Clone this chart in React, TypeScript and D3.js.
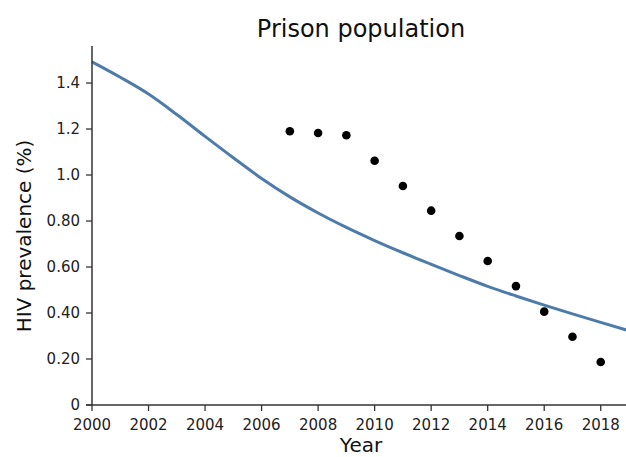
import React from "react";
import * as d3 from "d3";

// Modelled HIV prevalence in the prison population, by year
const modelYears = [2000, 2001, 2002, 2003, 2004, 2005, 2006, 2007, 2008, 2009, 2010, 2011, 2012, 2013, 2014, 2015, 2016, 2017, 2018, 2019];
const modelValues = [1.492, 1.425, 1.352, 1.263, 1.168, 1.075, 0.985, 0.905, 0.835, 0.772, 0.715, 0.662, 0.612, 0.563, 0.516, 0.474, 0.434, 0.396, 0.359, 0.323];

// Observed prevalence points
const obsYears = [2007, 2008, 2009, 2010, 2011, 2012, 2013, 2014, 2015, 2016, 2017, 2018];
const obsValues = [1.19, 1.183, 1.173, 1.062, 0.952, 0.845, 0.735, 0.626, 0.517, 0.406, 0.297, 0.187];

const xTicks = [2000, 2002, 2004, 2006, 2008, 2010, 2012, 2014, 2016, 2018];
const yTicks = [0, 0.2, 0.4, 0.6, 0.8, 1.0, 1.2, 1.4];
const yTickLabels = ["0", "0.20", "0.40", "0.60", "0.80", "1.0", "1.2", "1.4"];

const W = 626;
const H = 457;
const m = { left: 92, top: 46, bottom: 405 };

export default function App() {
  const x = d3.scaleLinear().domain([2000, 2019]).range([m.left, 629]);
  const y = d3.scaleLinear().domain([0, 1.561]).range([m.bottom, m.top]);

  const line = d3
    .line<number>()
    .x((_, i) => x(modelYears[i]))
    .y((d) => y(d))
    .curve(d3.curveMonotoneX);

  const font = "'DejaVu Sans', sans-serif";

  return (
    <svg
      width={W}
      height={H}
      style={{ position: "absolute", left: 0, top: 0, background: "#fff" }}
      fontFamily={font}
    >
      <text x={361} y={37} textAnchor="middle" fontSize={24} fill="#111">
        Prison population
      </text>

      {/* model curve */}
      <path d={line(modelValues) || ""} fill="none" stroke="#4e7caa" strokeWidth={3} />

      {/* observations */}
      {obsValues.map((v, i) => (
        <circle key={i} cx={x(obsYears[i])} cy={y(v)} r={4.3} fill="#000" />
      ))}

      {/* y axis */}
      <line x1={m.left} x2={m.left} y1={m.top} y2={m.bottom} stroke="#333" strokeWidth={1.5} />
      {yTicks.map((t, i) => (
        <g key={t} transform={`translate(0,${y(t)})`}>
          <line x1={m.left - 6} x2={m.left} stroke="#333" strokeWidth={1.3} />
          <text x={m.left - 12} dy="0.35em" textAnchor="end" fontSize={15} fill="#222">
            {yTickLabels[i]}
          </text>
        </g>
      ))}

      {/* x axis */}
      <line x1={m.left - 6} x2={W} y1={m.bottom} y2={m.bottom} stroke="#333" strokeWidth={1.5} />
      {xTicks.map((t) => (
        <g key={t} transform={`translate(${x(t)},0)`}>
          <line y1={m.bottom} y2={m.bottom + 6} stroke="#333" strokeWidth={1.3} />
          <text y={m.bottom + 25} textAnchor="middle" fontSize={15} fill="#222">
            {t}
          </text>
        </g>
      ))}

      <text x={361} y={452} textAnchor="middle" fontSize={20} fill="#111">
        Year
      </text>
      <text
        transform={`translate(31,236) rotate(-90)`}
        textAnchor="middle"
        fontSize={20}
        fill="#111"
      >
        HIV prevalence (%)
      </text>
    </svg>
  );
}
